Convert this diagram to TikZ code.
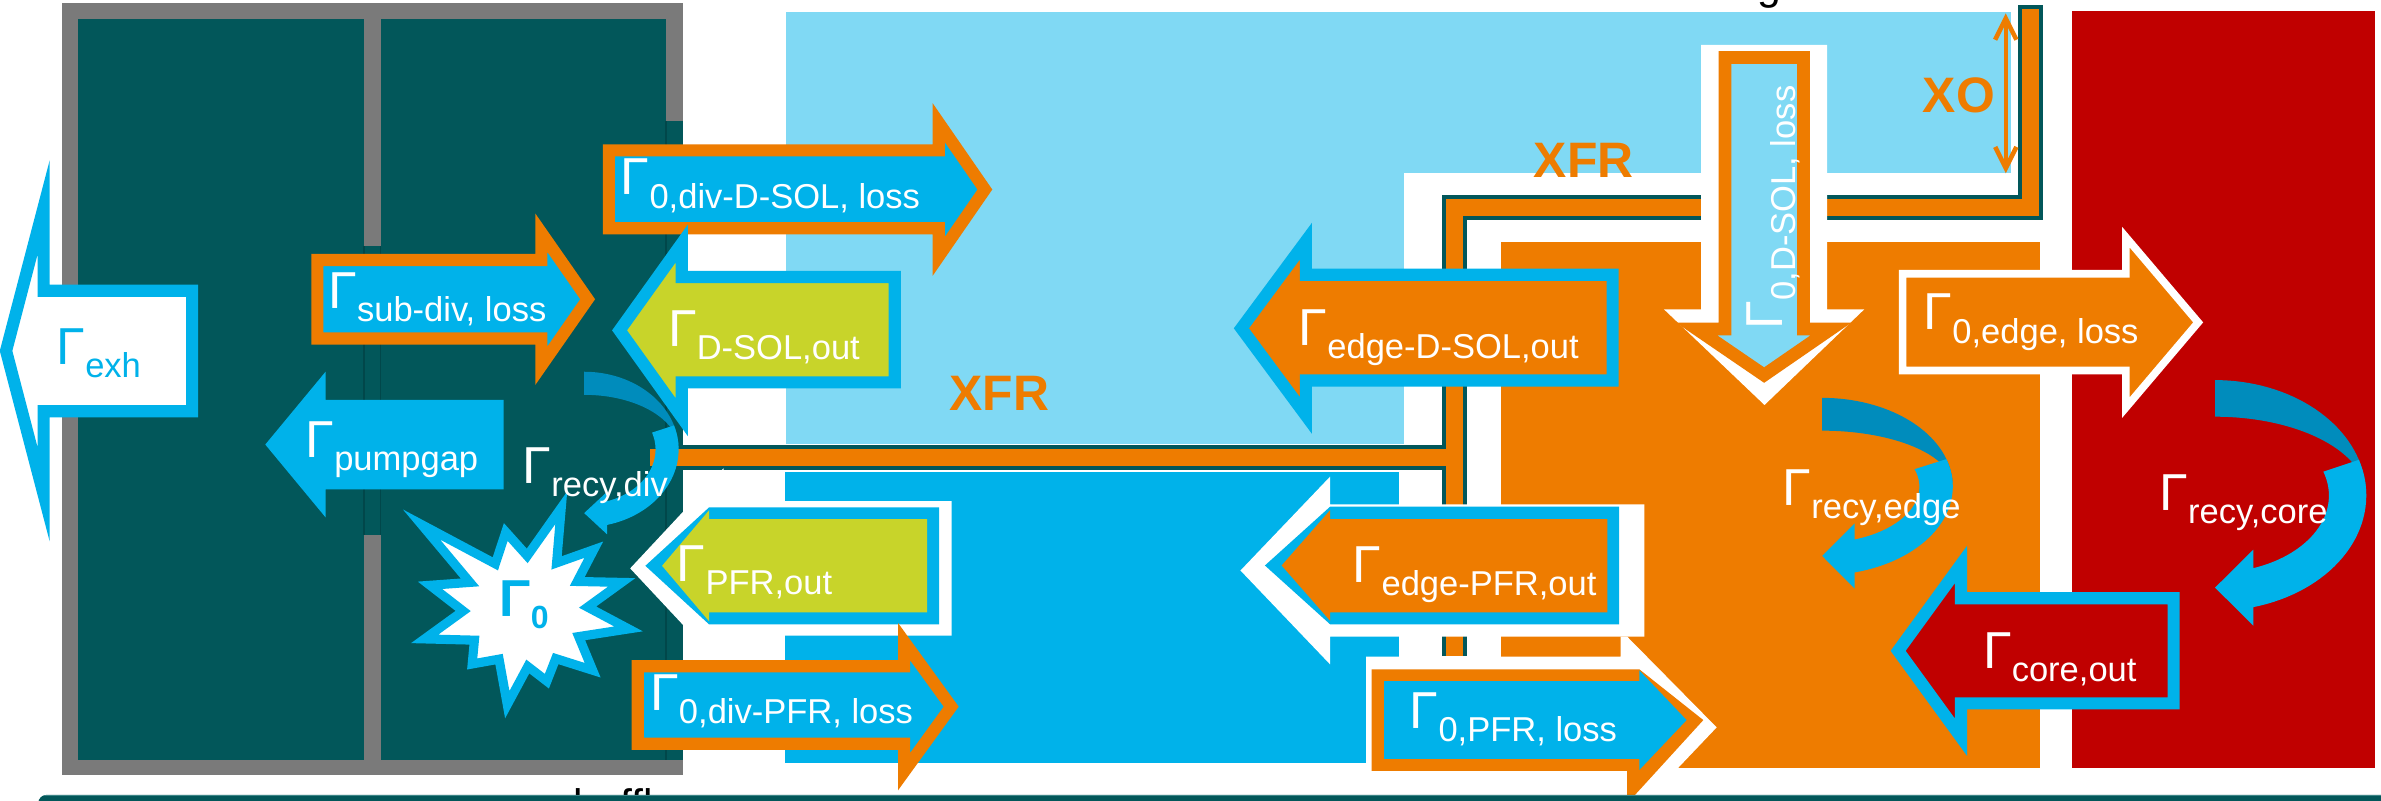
\documentclass[tikz,border=0pt]{standalone}
\usepackage{fontspec}
\setmainfont{Liberation Sans}
\usetikzlibrary{arrows.meta}

\definecolor{divteal}{HTML}{02575A}
\definecolor{divline}{HTML}{01474A}
\definecolor{barglow}{HTML}{3C8587}
\definecolor{wallgray}{HTML}{7A7A7A}
\definecolor{solblue}{HTML}{80D9F4}
\definecolor{pfrblue}{HTML}{00B2EA}
\definecolor{backblue}{HTML}{008CBC}
\definecolor{edgeorange}{HTML}{EE7C00}
\definecolor{corered}{HTML}{C00000}
\definecolor{outgreen}{HTML}{C8D42A}

% flux symbol with a lowered subscript
\newcommand{\flux}[1]{{\fontsize{14.6}{14.6}\selectfont Γ}\raisebox{-3.7pt}{\fontsize{9.7}{9.7}\selectfont #1}}

% straight block arrow: tail x, body top, body bottom, head back x, head top, head bottom, tip x, style
\newcommand{\blockarrow}[8]{\path[#8] (#1,#2) -- (#4,#2) -- (#4,#5) -- (#7,{(#5+#6)/2}) -- (#4,#6) -- (#4,#3) -- (#1,#3) -- cycle;}

% curved recycling arrow: cx, cy, outer rx, outer ry, back ry, front rx, front ry, head dx, head half height
\newcommand{\recyarrow}[9]{%
  \pgfmathsetmacro{\recao}{-acos(#8/#3)}%
  \pgfmathsetmacro{\recaf}{-acos(#8/#6)}%
  \pgfmathsetmacro{\recyo}{#2-#4*sin(\recao)}%
  \pgfmathsetmacro{\recyf}{#2-#7*sin(\recaf)}%
  \pgfmathsetmacro{\recym}{(\recyo+\recyf)/2}%
  \fill[backblue] plot[domain=90:0,samples=36,variable=\t] ({#1+#3*cos(\t)},{#2-#4*sin(\t)})
     -- plot[domain=0:90,samples=36,variable=\t] ({#1+#3*cos(\t)},{#2-#5*sin(\t)}) -- cycle;
  \fill[pfrblue] plot[domain=18:\recao,samples=36,variable=\t] ({#1+#3*cos(\t)},{#2-#4*sin(\t)})
     -- ({#1+#8},{\recym+#9}) -- (#1,\recym) -- ({#1+#8},{\recym-#9})
     -- plot[domain=\recaf:18,samples=36,variable=\t] ({#1+#6*cos(\t)},{#2-#7*sin(\t)}) -- cycle;
}

\tikzset{
  lab/.style={anchor=base west, inner sep=0pt, outer sep=0pt, text=white},
  xlab/.style={inner sep=0pt, text=edgeorange, font=\bfseries\fontsize{14}{14}\selectfont},
  bo/.style={fill=pfrblue, draw=edgeorange, line width=1.2mm},
  gb/.style={fill=outgreen, draw=pfrblue, line width=1.2mm},
  ob/.style={fill=edgeorange, draw=pfrblue, line width=1.2mm},
  rb/.style={fill=corered, draw=pfrblue, line width=1.2mm},
  wb/.style={fill=white, draw=pfrblue, line width=1.2mm},
  ow/.style={fill=edgeorange, draw=white, line width=0.75mm},
  plain/.style={inner sep=0pt, outer sep=0pt, anchor=base west, font=\fontsize{12}{12}\selectfont},
}

\begin{document}
\begin{tikzpicture}[x=0.15mm, y=-0.15mm, line join=miter]
\useasboundingbox (0,0) rectangle (1568,527);
\clip (0,0) rectangle (1568,527);
\fill[white] (0,0) rectangle (1568,527);

% partly hidden captions
\node[plain] (topg) at (1157.3,-0.4) {g};
\node[plain] (baffle) at (377.4,539.6) {baffle};

% divertor box
\fill[wallgray] (41,2.2) rectangle (449.6,510.4);
\fill[divteal] (51.4,12.7) rectangle (438.5,500.5);
\fill[divteal] (438.5,80) rectangle (449.6,500.5);
\fill[divteal] (239.6,150) rectangle (250.6,360);
\fill[wallgray] (239.6,2.2) rectangle (250.6,162);
\fill[wallgray] (239.6,352.3) rectangle (250.6,510.4);
\draw[divline, line width=0.15mm] (239.6,162) -- (239.6,352.3) (250.6,162) -- (250.6,352.3) (438.5,80) -- (438.5,500.5);

% plasma regions
\fill[solblue] (517.5,7.9) rectangle (1324.5,114);
\fill[solblue] (517.5,114) rectangle (924.4,292.4);
\fill[pfrblue] (517.1,310.6) rectangle (921.2,502.7);
\fill[edgeorange] (988.5,159.5) rectangle (1343.6,505.5);
\fill[corered] (1364.5,7.2) rectangle (1564,505.5);

% separatrix bars
\draw[divteal, line width=2.5mm] (449.6,301.35) -- (957.85,301.35);
\draw[divteal, line width=2.5mm] (957.85,432) -- (957.85,136.65) -- (1337.1,136.65) -- (1337.1,3.3);
\draw[edgeorange, line width=1.65mm] (428,301.35) -- (957.85,301.35);
\draw[edgeorange, line width=1.65mm] (957.85,432) -- (957.85,136.65) -- (1337.1,136.65) -- (1337.1,6.1);

% divertor fluxes
\blockarrow{126.5}{191.5}{270.8}{28.7}{136.7}{325.4}{4}{wb}
\blockarrow{331.6}{263.4}{322.2}{214.4}{244.8}{340.7}{174.7}{fill=pfrblue}
\blockarrow{209}{171.2}{222.9}{356.5}{153.3}{240.8}{387}{bo}
\blockarrow{401}{99}{150.3}{618.2}{80.8}{168.8}{648.6}{bo}

% neutral source burst
\begin{scope}[shift={(345,402)}, y=0.15mm]
\filldraw[fill=white, draw=pfrblue, line width=0.9mm, miter limit=6]
  (-164:68) -- (-149:38) -- (-134:49) -- (-117:36) -- (-100:63) -- (-86:37) -- (-72:49) -- (-56.5:38)
  -- (-41:60) -- (-25.5:40) -- (-10:70) -- (3:42) -- (16:67) -- (28.5:40) -- (41:61) -- (55.5:38)
  -- (70:72) -- (86.5:36) -- (103:53) -- (121.5:36) -- (140:88) -- (152.5:40) -- (165:64) -- (180.5:40) -- cycle;
\end{scope}
\node[anchor=base west, inner sep=0pt, text=pfrblue, font=\bfseries] (gzero) at (328.5,406)
  {{\fontsize{14.6}{14.6}\selectfont Γ}\raisebox{-3.4pt}{\fontsize{9}{9}\selectfont 0}};

\recyarrow{384.7}{296}{62.2}{51.2}{36}{47}{36}{15.1}{14}
\blockarrow{589.2}{182.4}{251.8}{449}{160.3}{274.8}{408}{gb}

% private flux region outflow
\fill[white] (626.7,330) -- (476.5,330) -- (476.5,308.4) -- (415,374.3) -- (476.5,440.1) -- (476.5,418.6) -- (626.7,418.6) -- cycle;
\fill[pfrblue] (618.5,334.1) -- (467,334.1) -- (425,372.6) -- (467,411.2) -- (618.5,411.2) -- cycle;
\fill[outgreen] (610.6,341.8) -- (467,341.8) -- (467,336) -- (436,372.6) -- (467,409.2) -- (467,403.3) -- (610.6,403.3) -- cycle;
\blockarrow{420}{438.7}{489.8}{595.4}{422.6}{508.1}{626.4}{bo}

% edge fluxes
\blockarrow{1062}{180.9}{250.6}{860}{158.8}{273.6}{817.5}{ob}
\fill[white] (899.7,432.4) -- (1067.3,432.4) -- (1067.3,419.3) -- (1071.6,419.3) -- (1130.5,479) -- (1082,530) -- (899.7,530) -- cycle;
\fill[edgeorange] (903.3,440.8) -- (1079.6,440.8) -- (1121.7,474.2) -- (1076.7,523.5) -- (1071.6,523.5) -- (1071.6,507.7) -- (903.3,507.7) -- cycle;
\fill[pfrblue] (911.5,448.5) -- (1079.6,448.5) -- (1079.6,441.5) -- (1110.7,474.2) -- (1079.6,507) -- (1079.6,499.8) -- (911.5,499.8) -- cycle;
\fill[white] (1082.9,332.1) -- (875.9,332.1) -- (875.9,313.9) -- (816.9,375.7) -- (875.9,437.5) -- (875.9,419.3) -- (1082.9,419.3) -- cycle;
\fill[pfrblue] (1066.2,333.7) -- (875.9,333.7) -- (833,372.4) -- (875.9,411.1) -- (1066.2,411.1) -- cycle;
\fill[edgeorange] (1058.5,341.8) -- (875.9,341.8) -- (875.9,336) -- (844,372.4) -- (875.9,408.8) -- (875.9,403.3) -- (1058.5,403.3) -- cycle;

% loss from the divertor SOL into the edge
\fill[white] (1120.2,29.6) -- (1203.3,29.6) -- (1203.3,203.7) -- (1227.7,203.7) -- (1162,266.7) -- (1095.8,203.7) -- (1120.2,203.7) -- cycle;
\filldraw[fill=solblue, draw=edgeorange, line width=1.26mm] (1135.9,37.9) -- (1187.6,37.9) -- (1187.6,216.7) -- (1205.7,216.7) -- (1161.75,247) -- (1117.4,216.7) -- (1135.9,216.7) -- cycle;

\blockarrow{1252.9}{180.3}{244}{1400}{156.2}{268.4}{1447.6}{ow}
\recyarrow{1200}{320.4}{86}{58.4}{36.8}{64}{37}{21.4}{21.5}
\recyarrow{1458.7}{326.3}{99.6}{76}{51.9}{75}{50.8}{25.2}{25}
\blockarrow{1431.4}{394}{463.2}{1291.4}{371.7}{485.5}{1250}{rb}

% labels
\node[lab, text=pfrblue] (gexh) at (37.3,240) {\flux{exh}};
\node[lab] (gsubdiv) at (216.3,203) {\flux{sub-div, loss}};
\node[lab] (gdivdsol) at (408.9,128.4) {\flux{0,div-D-SOL, loss}};
\node[lab] (gdsolout) at (440,228.4) {\flux{D-SOL,out}};
\node[lab] (gpump) at (201.3,301) {\flux{pumpgap}};
\node[lab] (grecydiv) at (344.3,318.3) {\flux{recy,div}};
\node[lab] (gpfrout) at (445.8,383) {\flux{PFR,out}};
\node[lab] (gdivpfr) at (428.3,467.6) {\flux{0,div-PFR, loss}};
\node[lab] (gedsol) at (855.3,227.2) {\flux{edge-D-SOL,out}};
\node[lab] (gedpfr) at (891,383.7) {\flux{edge-PFR,out}};
\node[lab] (gpfrloss) at (928.5,479.6) {\flux{0,PFR, loss}};
\node[lab] (gedgeloss) at (1266.9,217.3) {\flux{0,edge, loss}};
\node[lab] (grecyedge) at (1174.1,332.6) {\flux{recy,edge}};
\node[lab] (grecycore) at (1422.2,336.3) {\flux{recy,core}};
\node[lab] (gcoreout) at (1306,440.1) {\flux{core,out}};
\node[lab, rotate=90] (gdsolloss) at (1174,216.7) {\flux{0,D-SOL, loss}};

\node[xlab] (xfrlow) at (658,259) {XFR};
\node[xlab] (xfrup) at (1043,105.5) {XFR};
\node[xlab] (xo) at (1290,62.8) {XO};
\coordinate (xotop) at (1320.9,8.8);
\coordinate (xobot) at (1320.9,114.1);
\draw[edgeorange, line width=0.45mm, {Straight Barb[length=2.1mm,width=2.1mm]}-{Straight Barb[length=2.1mm,width=2.1mm]}] (xotop) -- (xobot);

% bottom bar
\fill[divteal, rounded corners=0.8mm] (25.2,523.5) rectangle (1600,560);
\draw[barglow, line width=0.15mm] (29,523.9) -- (1568,523.9);
\end{tikzpicture}
\end{document}
